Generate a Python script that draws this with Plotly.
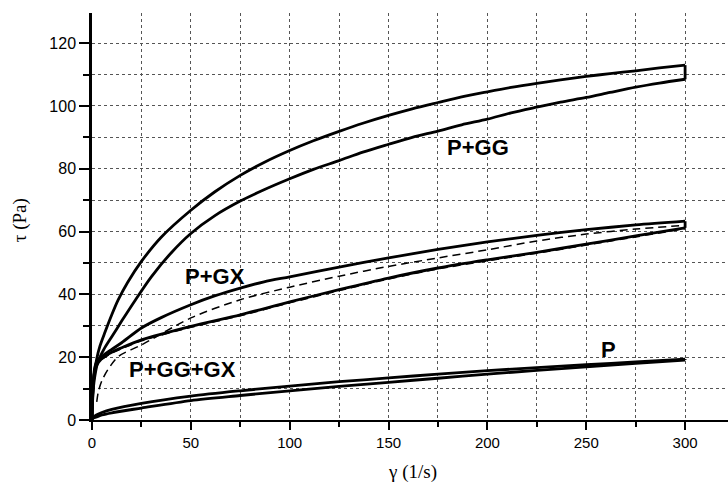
import plotly.graph_objects as go

# Flow curves (shear stress vs shear rate), each measured up and back down.
# P+GG
gg_up_x = [0, 0.3, 1, 2.4, 4, 6.6, 10, 13.3, 18, 25, 35, 50, 62, 75, 87, 100, 112, 125, 137,
           150, 162, 175, 187, 200, 212, 225, 237, 250, 262, 275, 287, 300]
gg_up_y = [0, 8, 14, 19.5, 23.5, 28, 33.5, 38.3, 43.8, 50.5, 58.2, 66.8, 72.6, 77.9, 82.0, 85.8,
           88.9, 91.9, 94.5, 97.0, 99.1, 101.1, 102.9, 104.5, 105.9, 107.2, 108.3, 109.4, 110.3,
           111.2, 112.1, 113.0]
gg_down_x = [0, 0.3, 1, 3, 6, 10, 15, 21.7, 30, 40, 50, 62, 75, 87, 100, 112, 125, 137, 150, 162,
             175, 187, 200, 212, 225, 237, 250, 262, 275, 287, 300]
gg_down_y = [0, 6, 12, 18.5, 22.5, 26.5, 31.5, 38.0, 45.6, 53.2, 59.4, 65.0, 69.7, 73.3, 76.8, 79.8,
             82.6, 85.3, 87.8, 90, 92, 94, 95.8, 97.8, 99.6, 101.2, 102.7, 104.3, 106, 107.3, 108.5]

# P+GX
gx_up_x = [0, 0.3, 1, 2, 5, 10, 15, 25, 35, 50, 62, 75, 87, 100, 125, 150, 175, 200, 225, 250, 275, 300]
gx_up_y = [0, 8, 15, 18, 20.2, 22.5, 24.6, 29.3, 32.6, 36.7, 39.5, 42.0, 44.0, 45.6, 48.7, 51.6,
           54.3, 56.7, 58.8, 60.6, 62.1, 63.3]
gx_down_x = [0, 0.3, 1, 2, 5, 10, 15, 25, 50, 75, 100, 125, 150, 175, 200, 225, 250, 275, 300]
gx_down_y = [0, 7, 14, 17, 19.6, 21.6, 23, 25.5, 29.8, 33.5, 37.6, 41.5, 45.2, 48.4, 51.0, 53.4,
             56.0, 58.6, 61.2]

# P+GG+GX
mix_up_x = [2.4, 3.2, 5, 8, 13.3, 25, 50, 75, 100, 125, 150, 175, 200, 225, 250, 275, 300]
mix_up_y = [5.8, 9, 12.5, 16, 20.2, 23.9, 32.5, 38.3, 42.3, 45.8, 48.9, 51.6, 54.2, 57.0, 59.2,
            60.8, 62.0]
mix_down_x = [5, 10, 15, 25, 50, 75, 100, 125, 150, 175, 200, 225, 250, 275, 300]
mix_down_y = [19.3, 21.3, 22.7, 25.2, 29.5, 33.2, 37.3, 41.2, 44.9, 48.1, 50.7, 53.1, 55.7, 58.3, 60.9]

# P
p_up_x = [0, 2, 5, 10, 25, 50, 75, 100, 125, 150, 175, 200, 225, 250, 275, 300]
p_up_y = [0.5, 1.5, 2.4, 3.4, 5.3, 7.6, 9.3, 10.8, 12.2, 13.4, 14.6, 15.7, 16.7, 17.6, 18.5, 19.4]
p_down_x = [0, 2, 5, 10, 25, 50, 75, 100, 125, 150, 175, 200, 225, 250, 275, 300]
p_down_y = [0.5, 0.9, 1.6, 2.3, 3.8, 6.2, 7.8, 9.3, 10.7, 12.0, 13.3, 14.6, 15.8, 16.9, 18.0, 19.1]

labels = ["P+GG", "P+GX", "P+GG+GX", "P"]
label_x = [195, 62, 46, 261]
label_y = [86.8, 45.7, 16.0, 22.3]

fig = go.Figure()


def add_loop(ux, uy, dx, dy, line):
    """Draw both sweeps as smooth curves and close the loop at the highest shear rate."""
    for xs, ys in ((ux, uy), (dx, dy)):
        fig.add_trace(go.Scatter(x=xs, y=ys, mode="lines", showlegend=False,
                                 line=dict(shape="spline", smoothing=0.8, **line)))
    fig.add_trace(go.Scatter(x=[ux[-1], dx[-1]], y=[uy[-1], dy[-1]], mode="lines",
                             showlegend=False, line=line))


solid = dict(color="black", width=2.8)
add_loop(gg_up_x, gg_up_y, gg_down_x, gg_down_y, solid)
add_loop(gx_up_x, gx_up_y, gx_down_x, gx_down_y, solid)
add_loop(p_up_x, p_up_y, p_down_x, p_down_y, solid)
add_loop(mix_up_x, mix_up_y, mix_down_x, mix_down_y,
         dict(color="black", width=1.5, dash="8px,5px"))

for t, x, y in zip(labels, label_x, label_y):
    fig.add_annotation(x=x, y=y, text=t, showarrow=False, xref="x", yref="y",
                       xanchor="center", yanchor="middle",
                       font=dict(family="Liberation Sans", size=22, color="black", weight="bold"))

fig.add_annotation(x=(412 - 92) / 636, y=(420 - 472) / 407, xref="paper", yref="paper",
                   text="γ (1/s)", showarrow=False, xanchor="center", yanchor="middle",
                   font=dict(family="Liberation Serif", size=19, color="black"))
fig.add_annotation(x=(20 - 92) / 636, y=0.491, xref="paper", yref="paper",
                   text="τ (Pa)", showarrow=False, textangle=-90,
                   xanchor="center", yanchor="middle",
                   font=dict(family="Liberation Serif", size=19, color="black"))

grid = dict(showgrid=True, gridcolor="#555", gridwidth=1, griddash="dot")
fig.update_xaxes(range=[0, 321.7], dtick=50, tick0=0, zeroline=False,
                 showline=True, linecolor="black", linewidth=2,
                 ticks="outside", ticklen=8, tickwidth=1.5, tickcolor="black",
                 tickfont=dict(family="Liberation Sans", size=15, color="black"),
                 minor=dict(dtick=25, ticks="outside", ticklen=5, tickwidth=1.5,
                            tickcolor="black", **grid),
                 **grid)
fig.update_yaxes(range=[0, 129.6], dtick=20, tick0=0, zeroline=False,
                 showline=True, linecolor="black", linewidth=2.5,
                 ticks="outside", ticklen=10, tickwidth=1.5, tickcolor="black",
                 tickfont=dict(family="Liberation Sans", size=16, color="black"),
                 minor=dict(dtick=10, ticks="outside", ticklen=6, tickwidth=1.5,
                            tickcolor="black", **grid),
                 **grid)
fig.update_layout(width=728, height=483, margin=dict(l=92, r=0, t=13, b=63),
                  plot_bgcolor="white", paper_bgcolor="white")
fig.write_html("out.html")
